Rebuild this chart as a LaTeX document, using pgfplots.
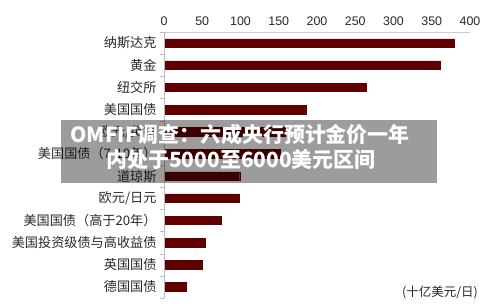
\documentclass[border=0pt]{standalone}
\usepackage{pgfplots}
\pgfplotsset{compat=1.18}
\usepackage{fontspec}
\setmainfont{Liberation Sans}
\newfontfamily\cjk{Noto Sans CJK SC}
\definecolor{barred}{RGB}{96,0,0}
\definecolor{labgray}{RGB}{40,40,40}
\begin{document}
\begin{tikzpicture}
\useasboundingbox (0,0) rectangle (500bp,304bp);
\begin{axis}[
  at={(164bp,6bp)}, anchor=south west,
  scale only axis, width=306bp, height=266bp,
  xmin=0, xmax=400, ymin=0.5, ymax=12.5,
  xtick={0,50,...,400}, xticklabel pos=upper,
  /pgf/number format/assume math mode=true,
  xticklabel style={font=\fontsize{12.5}{14}\selectfont, text=labgray, yshift=3bp},
  ytick={1,...,12},
  yticklabels={德国国债,英国国债,美国投资级债与高收益债,美国国债（高于20年）,欧元/日元,道琼斯,美国国债（7-10年）,欧元/英镑,美国国债,纽交所,黄金,纳斯达克},
  yticklabel style={font=\cjk\fontsize{13.2}{15}\selectfont, text=labgray, xshift=-4bp},
  major tick length=0pt,
  minor ytick={0.5,1.5,...,12.5},
  minor tick length=4bp,
  tick align=outside,
  ytick pos=left, xtick pos=upper,
  minor tick style={gray!50},
  axis line style={draw=none},
  clip=false,
]
\addplot[xbar, bar width=8.5bp, fill=barred, draw=barred] table {
x y
28.8 1
49.7 2
53.6 3
74.5 4
98 5
99 6
152.5 7
158 8
186 9
264 10
361 11
379.5 12
};
\draw[gray!40] (axis cs:0,12.5) -- (axis cs:400,12.5);
\draw[gray!55] (axis cs:0,0.5) -- (axis cs:0,12.5);
\end{axis}
\fill[black, opacity=0.39] (61bp,121bp) rectangle (437bp,184bp);
\node[anchor=base, text=white, font=\cjk\bfseries\fontsize{21}{24}\selectfont, inner sep=0pt] at (240bp,161bp) {OMFIF调查：六成央行预计金价一年};
\node[anchor=base, text=white, font=\cjk\bfseries\fontsize{21}{24}\selectfont, inner sep=0pt] at (241bp,136bp) {内处于5000至6000美元区间};
\node[anchor=east, text=labgray, font=\cjk\fontsize{12.5}{14}\selectfont, inner sep=0pt] at (478bp,12bp) {(十亿美元/日)};
\end{tikzpicture}
\end{document}
